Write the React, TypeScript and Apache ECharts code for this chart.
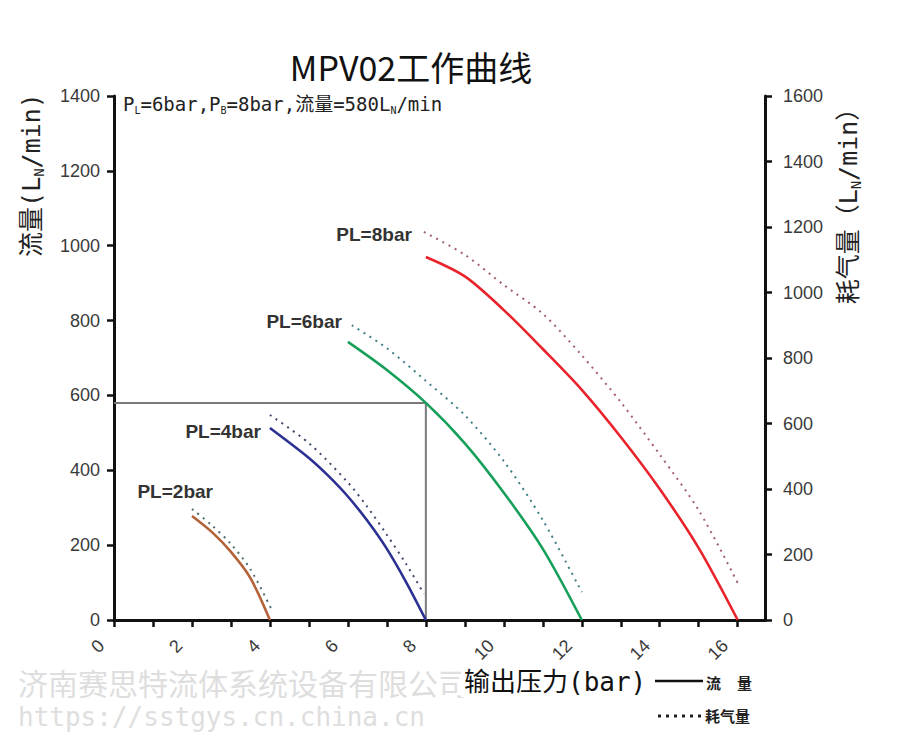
import React, { useEffect, useRef } from 'react';
import * as echarts from 'echarts';

// ---------- data ----------
const TITLE = 'MPV02工作曲线';
const CURVE_NAMES = ['PL=2bar', 'PL=4bar', 'PL=6bar', 'PL=8bar'];

// flow (left axis, LN/min) vs output pressure (bar)
const P2 = [2, 2.5, 3, 3.5, 4];
const FLOW2 = [278, 236, 182, 112, 0];
const P4 = [4, 5, 5.5, 6, 6.5, 7, 7.5, 8];
const FLOW4 = [513, 433, 385, 330, 265, 190, 100, 0];
const P6 = [6, 7, 8, 9, 10, 11, 12];
const FLOW6 = [743, 668, 580, 472, 340, 190, 0];
const P8 = [8, 9, 10, 11, 12, 13, 14, 15, 16];
const FLOW8 = [970, 918, 828, 724, 615, 489, 350, 192, 0];

// air consumption (right axis, LN/min)
const P2_AIR = [2, 2.5, 3, 3.5, 4.05];
const AIR2 = [339, 290, 232, 155, 30];
const P4_AIR = [4, 5, 6, 6.5, 7, 7.5, 7.95];
const AIR4 = [626, 540, 420, 345, 260, 170, 80];
const P6_AIR = [6.1, 7, 8, 9, 10, 11, 12];
const AIR6 = [900, 830, 730, 625, 485, 305, 85];
const P8_AIR = [7.95, 9, 10, 11, 12, 13, 14, 15, 16];
const AIR8 = [1185, 1115, 1023, 935, 808, 665, 505, 335, 113];

// reference operating point
const REF_PRESSURE = 8;
const REF_FLOW = 580;

// axes
const X_MAX = 16.7;
const FLOW_MAX = 1400;
const AIR_MAX = 1600;

const FLOW_COLORS = ['#b4623a', '#2b3192', '#17a05a', '#e8232b'];
const AIR_COLORS = ['#4e6c72', '#3c4868', '#3f7f84', '#a2606c'];

const FONT_CJK = '"Noto Sans CJK SC", sans-serif';
const FONT_MONO = '"DejaVu Sans Mono", "Noto Sans CJK SC", monospace';
const FONT_NUM = '"Liberation Sans", Arial, sans-serif';

const zip = (xs: number[], ys: number[]) => xs.map((x, i) => [x, ys[i]]);

export default function App() {
  const ref = useRef<HTMLDivElement>(null);

  useEffect(() => {
    document.body.style.margin = '0';
    if (!ref.current) return;
    const chart = echarts.init(ref.current, undefined, { renderer: 'svg' });

    const flows = [zip(P2, FLOW2), zip(P4, FLOW4), zip(P6, FLOW6), zip(P8, FLOW8)];
    const airs = [zip(P2_AIR, AIR2), zip(P4_AIR, AIR4), zip(P6_AIR, AIR6), zip(P8_AIR, AIR8)];

    const series: any[] = [];
    flows.forEach((d, i) => {
      series.push({
        name: CURVE_NAMES[i] + ' 流量',
        type: 'line',
        data: d,
        yAxisIndex: 0,
        smooth: 0.3,
        symbol: 'none',
        lineStyle: { color: FLOW_COLORS[i], width: 2.6 },
        z: 3,
      });
    });
    airs.forEach((d, i) => {
      series.push({
        name: CURVE_NAMES[i] + ' 耗气量',
        type: 'line',
        data: d,
        yAxisIndex: 1,
        smooth: 0.3,
        symbol: 'none',
        lineStyle: { color: AIR_COLORS[i], width: 2, type: [2, 5] },
        z: 3,
      });
    });
    series.push({
      name: 'ref',
      type: 'line',
      data: [
        [0, REF_FLOW],
        [REF_PRESSURE, REF_FLOW],
        [REF_PRESSURE, 0],
      ],
      yAxisIndex: 0,
      symbol: 'none',
      lineStyle: { color: '#7a7a7a', width: 2 },
      z: 2,
    });

    const axisLine = { show: true, lineStyle: { color: '#111', width: 3 } };
    const axisTick = { show: true, length: 7, lineStyle: { color: '#111', width: 2.5 } };
    const numFmt = (v: number) => String(v);

    const option: any = {
      animation: false,
      backgroundColor: '#fff',
      grid: { left: 114, top: 96, width: 651, height: 524, containLabel: false, outerBoundsMode: 'none' },
      xAxis: {
        type: 'value',
        min: 0,
        max: X_MAX,
        interval: 1,
        axisLine,
        axisTick,
        splitLine: { show: false },
        axisLabel: {
          rotate: 45,
          margin: 10,
          padding: [0, 18, 0, 0],
          fontSize: 18,
          fontFamily: FONT_NUM,
          color: '#3a3a3a',
          showMaxLabel: false,
          formatter: (v: number) => (Number.isInteger(v) && v % 2 === 0 ? String(v) : ''),
        },
      },
      yAxis: [
        {
          type: 'value',
          position: 'left',
          min: 0,
          max: FLOW_MAX,
          interval: 200,
          axisLine,
          axisTick,
          splitLine: { show: false },
          axisLabel: { margin: 14, fontSize: 18, fontFamily: FONT_NUM, color: '#3a3a3a', formatter: numFmt },
        },
        {
          type: 'value',
          position: 'right',
          min: 0,
          max: AIR_MAX,
          interval: 200,
          axisLine,
          axisTick,
          splitLine: { show: false },
          axisLabel: { margin: 18, fontSize: 18, fontFamily: FONT_NUM, color: '#3a3a3a', formatter: numFmt },
        },
      ],
      series,
    };

    chart.setOption(option);

    // curve labels placed relative to each curve's first point
    const labelOffsets = [
      [21, -24],
      [-9, 4],
      [-6, -20],
      [-14, -22],
    ];
    const curveLabels = flows.map((d, i) => {
      const p = chart.convertToPixel({ xAxisIndex: 0, yAxisIndex: 0 }, d[0]) as number[];
      return {
        type: 'text',
        x: p[0] + labelOffsets[i][0],
        y: p[1] + labelOffsets[i][1],
        z: 10,
        style: {
          text: CURVE_NAMES[i],
          fill: '#333',
          fontSize: 19,
          fontWeight: 'bold',
          fontFamily: FONT_NUM,
          align: 'right',
          verticalAlign: 'middle',
        },
      };
    });

    const subRich = (size: number, lh: number, family: string) => ({
      m: { fontSize: size, fontFamily: family, lineHeight: lh, verticalAlign: 'middle', fill: '#222' },
      s: { fontSize: Math.round(size * 0.55), fontFamily: family, lineHeight: lh, verticalAlign: 'bottom', fill: '#222' },
    });

    const graphic: any[] = [
      {
        type: 'text',
        x: 18,
        y: 682,
        z: -5,
        style: {
          text: '济南赛思特流体系统设备有限公司',
          fill: '#dedede',
          fontSize: 30,
          fontFamily: FONT_CJK,
          verticalAlign: 'middle',
        },
      },
      {
        type: 'text',
        x: 18,
        y: 717,
        z: -5,
        style: {
          text: 'https://sstgys.cn.china.cn',
          fill: '#dedede',
          fontSize: 26,
          fontFamily: '"DejaVu Sans Mono", monospace',
          verticalAlign: 'middle',
        },
      },
      {
        type: 'text',
        x: 411,
        y: 66,
        style: {
          text: TITLE,
          fill: '#111',
          fontSize: 34,
          fontFamily: FONT_CJK,
          align: 'center',
          verticalAlign: 'middle',
        },
      },
      {
        type: 'text',
        x: 123,
        y: 104,
        style: {
          text: '{m|P}{s|L}{m|=6bar,P}{s|B}{m|=8bar,流量=580L}{s|N}{m|/min}',
          rich: subRich(19, 22, FONT_MONO),
          verticalAlign: 'middle',
        },
      },
      {
        type: 'text',
        x: 31,
        y: 175,
        rotation: Math.PI / 2,
        style: {
          text: '{m|流量(L}{s|N}{m|/min)}',
          rich: subRich(25, 30, FONT_MONO),
          align: 'center',
          verticalAlign: 'middle',
        },
      },
      {
        type: 'text',
        x: 848,
        y: 200,
        rotation: Math.PI / 2,
        style: {
          text: '{m|耗气量（L}{s|N}{m|/min）}',
          rich: subRich(25, 30, FONT_MONO),
          align: 'center',
          verticalAlign: 'middle',
        },
      },
      {
        type: 'text',
        x: 461,
        y: 682,
        z: 5,
        style: {
          text: '输出压力(bar)',
          fill: '#111',
          fontSize: 26,
          fontFamily: FONT_MONO,
          verticalAlign: 'middle',
          backgroundColor: '#fff',
          padding: [2, 3],
        },
      },
      {
        type: 'line',
        shape: { x1: 655, y1: 681, x2: 703, y2: 681 },
        style: { stroke: '#111', lineWidth: 2.5 },
      },
      {
        type: 'text',
        x: 706,
        y: 682,
        style: { text: '流', fill: '#222', fontSize: 15, fontWeight: 'bold', fontFamily: FONT_CJK, verticalAlign: 'middle' },
      },
      {
        type: 'text',
        x: 737,
        y: 682,
        style: { text: '量', fill: '#222', fontSize: 15, fontWeight: 'bold', fontFamily: FONT_CJK, verticalAlign: 'middle' },
      },
      {
        type: 'line',
        shape: { x1: 658, y1: 716, x2: 704, y2: 716 },
        style: { stroke: '#222', lineWidth: 3, lineDash: [3, 5] },
      },
      {
        type: 'text',
        x: 705,
        y: 715,
        style: { text: '耗气量', fill: '#222', fontSize: 15, fontWeight: 'bold', fontFamily: FONT_CJK, verticalAlign: 'middle' },
      },
      ...curveLabels,
    ];

    chart.setOption({ graphic });

    return () => {
      chart.dispose();
    };
  }, []);

  return <div ref={ref} style={{ width: 900, height: 748 }} />;
}
